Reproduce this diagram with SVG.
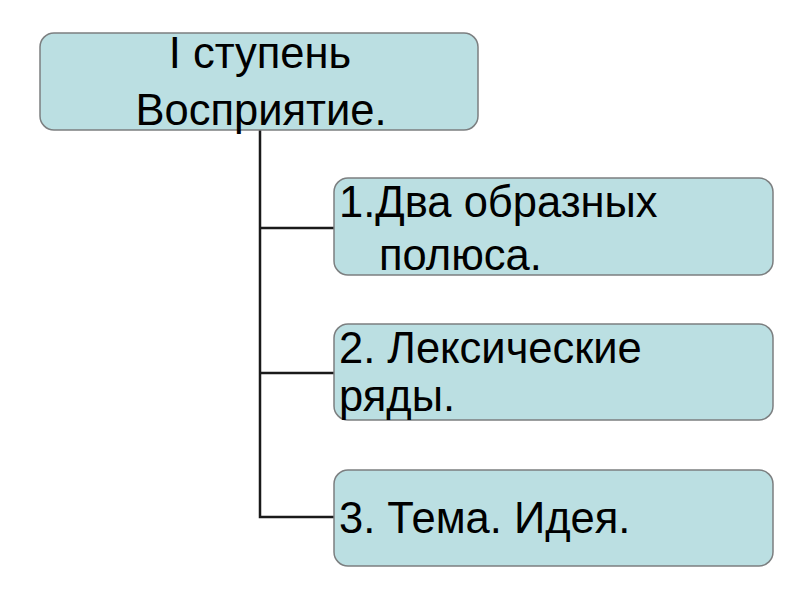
<svg xmlns="http://www.w3.org/2000/svg" width="800" height="600" viewBox="0 0 800 600">
<style>
.box{fill:#BBDFE2;stroke:#7c7f80;stroke-width:1.5}
.t{font-family:"Liberation Sans",Arial,sans-serif;font-size:43.5px;fill:#000}
.c{fill:none;stroke:#1a1a1a;stroke-width:2.5}
</style>
<rect width="800" height="600" fill="#fff"/>
<g id="connectors">
<path class="c" d="M260,130 V517 H334"/>
<path class="c" d="M260,228 H334"/>
<path class="c" d="M260,373 H334"/>
</g>
<g id="n0">
<rect class="box" x="40" y="33" width="438" height="97" rx="14"/>
<text class="t" x="260" y="68" text-anchor="middle">I ступень</text>
<text class="t" x="261" y="125" text-anchor="middle">Восприятие.</text>
</g>
<g id="n1">
<rect class="box" x="334" y="178" width="439" height="97" rx="14"/>
<text class="t" x="339" y="217">1.Два образных</text>
<text class="t" x="379" y="270">полюса.</text>
</g>
<g id="n2">
<rect class="box" x="334" y="324" width="439" height="96" rx="14"/>
<text class="t" x="339" y="363">2. Лексические</text>
<text class="t" x="339" y="411">ряды.</text>
</g>
<g id="n3">
<rect class="box" x="334" y="470" width="439" height="96" rx="14"/>
<text class="t" x="339" y="533">3. Тема. Идея.</text>
</g>
</svg>
